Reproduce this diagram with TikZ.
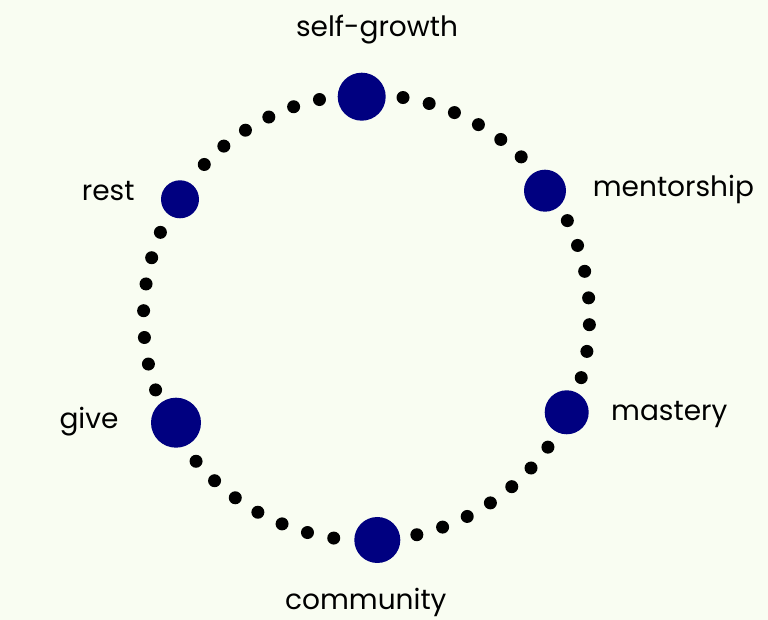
\documentclass[tikz,border=0pt]{standalone}
\usepackage{fontspec}
\setmainfont{Poppins}
\definecolor{paper}{HTML}{F9FDF2}
\definecolor{hubblue}{HTML}{000080}
\begin{document}
\begin{tikzpicture}
  [x=1pt,y=1pt,
   hub/.style={circle,fill=hubblue,inner sep=0pt},
   word/.style={anchor=base west,inner sep=0pt,font=\fontsize{28}{32}\selectfont}]
  \fill[paper] (0,0) rectangle (768,620);
  \useasboundingbox (0,0) rectangle (768,620);
  \coordinate (c) at (366.5,302.5);

  % dots between the hubs
  \foreach \a/\b/\n in {91.25/35.4/6,35.4/-25.3/7,-25.3/-87.2/7,-87.2/-151.1/7,-151.1/-212.4/7,147.6/91.25/6}
    \foreach \i in {1,...,\n}
      \fill[shift={(c)}] ({(\a+\b)/2+(\i-(\n+1)/2)*6.9}:223) circle (6.5);

  \node[hub,minimum size=48] (selfgrowth) at (361.7,523.3) {};
  \node[hub,minimum size=42] (mentorship) at (545,429.3) {};
  \node[hub,minimum size=44] (mastery) at (566.7,207.7) {};
  \node[hub,minimum size=46] (community) at (377.3,80) {};
  \node[hub,minimum size=50] (give) at (176,197.3) {};
  \node[hub,minimum size=38] (rest) at (180,420.7) {};

  \node[word,anchor=base] (lselfgrowth) at (377,583.3) {self-growth};
  \node[word] (lmentorship) at (592.7,423.3) {mentorship};
  \node[word] (lmastery) at (611,199.3) {mastery};
  \node[word] (lcommunity) at (285,10.7) {community};
  \node[word] (lgive) at (59.3,191) {give};
  \node[word] (lrest) at (81.7,419.3) {rest};
\end{tikzpicture}
\end{document}
